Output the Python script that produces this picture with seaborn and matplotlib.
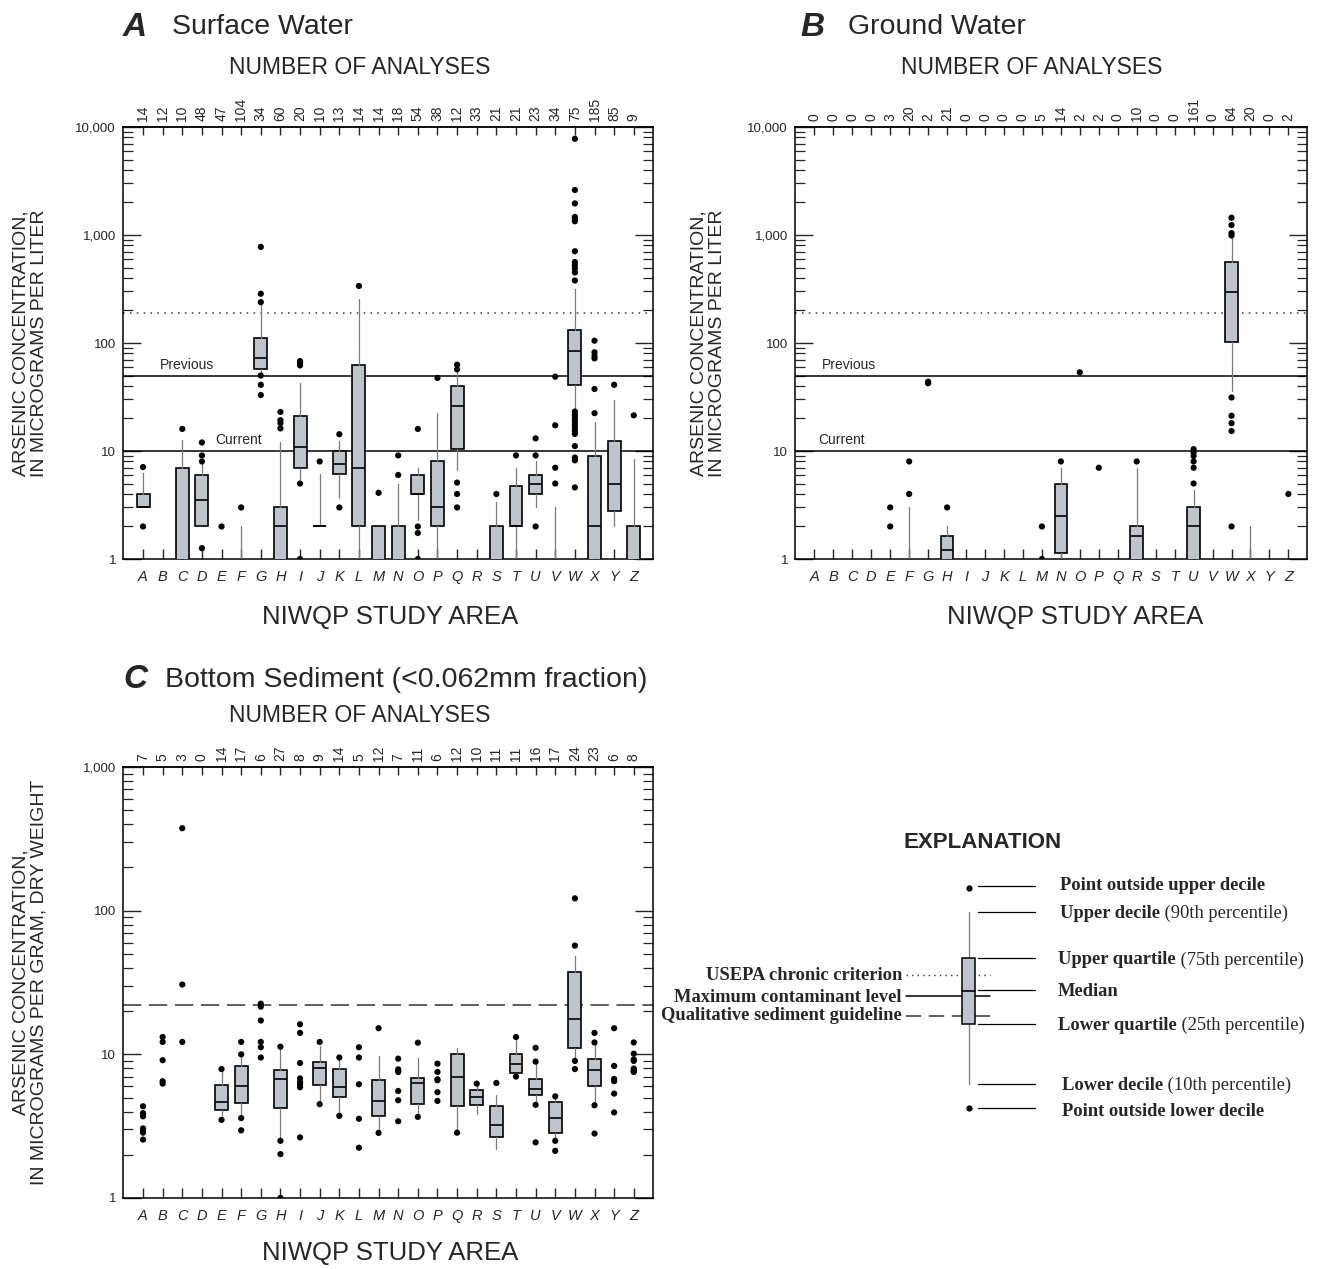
import numpy as np
import matplotlib
matplotlib.use("Agg")
import matplotlib.pyplot as plt
from matplotlib.patches import Rectangle
from matplotlib.ticker import LogLocator, NullFormatter, FixedLocator
import seaborn as sns

LETTERS = list("ABCDEFGHIJKLMNOPQRSTUVWXYZ")
NA = np.nan
LOW = 0.5  # below the 1-unit floor of the axis

# ---- A  Surface water (micrograms per liter) ----
sw_counts = [14, 12, 10, 48, 47, 104, 34, 60, 20, 10, 13, 14, 14, 18, 54, 38, 12, 33, 21, 21, 23, 34, 75, 185, 85, 9]
sw_p10 = [3.0, NA, LOW, 2.0, NA, LOW, 52, LOW, 5.5, 2.0, 3.7, LOW, LOW, LOW, 2.3, LOW, 6.6, NA, LOW, LOW, 3.0, LOW, 25, LOW, 2.0, LOW]
sw_q1 = [3.0, NA, LOW, 2.0, NA, LOW, 58, LOW, 7.0, 2.0, 6.1, 2.0, LOW, LOW, 4.0, 2.0, 10.5, NA, LOW, 2.0, 4.0, LOW, 41, LOW, 2.8, LOW]
sw_med = [3.0, NA, LOW, 3.5, NA, LOW, 72, 2.0, 11, 2.0, 7.5, 7.0, LOW, LOW, 4.0, 3.0, 26, NA, LOW, 2.0, 5.0, LOW, 85, 2.0, 5.0, LOW]
sw_q3 = [4.0, NA, 7.0, 6.0, NA, LOW, 111, 3.0, 21, 2.0, 10.0, 63, 2.0, 2.0, 6.0, 8.0, 40, NA, 2.0, 4.7, 6.0, LOW, 131, 9.0, 12.3, 2.0]
sw_p90 = [6.3, NA, 12.6, 7.5, NA, 2.0, 230, 12.0, 43, 6.1, 12.5, 257, 2.0, 5.0, 7.0, 22.7, 59, NA, 3.4, 7.0, 8.1, 3.0, 317, 18.5, 29.6, 8.4]
sw_out = [
    [7.1, 2.0], [], [16.0], [12.0, 9.1, 8.0, 1.26], [2.0], [3.0],
    [776, 286, 239, 50, 41, 33], [23, 19.3, 18.1, 16.2], [68, 65, 62, 5.0, 1.0], [8.0],
    [14.3, 3.0], [337], [4.1], [9.1, 6.0], [16.0, 2.0, 1.74, 1.0], [47.5],
    [63, 57, 5.1, 4.0, 3.0], [], [4.0], [9.1], [13.1, 9.1, 2.0], [48.8, 17.3, 7.0, 5.0],
    [7780, 2610, 1960, 1470, 1400, 1340, 707, 562, 524, 489, 450, 379,
     23.2, 21.6, 20.2, 18.9, 17.6, 16.5, 15.4, 14.4, 11.1, 8.7, 8.2, 4.6],
    [105, 82, 76, 72, 37.5, 22.4], [41], [21.4],
]

# ---- B  Ground water (micrograms per liter) ----
gw_counts = [0, 0, 0, 0, 3, 20, 2, 21, 0, 0, 0, 0, 5, 14, 2, 2, 0, 10, 0, 0, 161, 0, 64, 20, 0, 2]
gw_p10 = [NA, NA, NA, NA, NA, LOW, NA, LOW, NA, NA, NA, NA, NA, LOW, NA, NA, NA, LOW, NA, NA, LOW, NA, 36, LOW, NA, NA]
gw_q1 = [NA, NA, NA, NA, NA, LOW, NA, LOW, NA, NA, NA, NA, NA, 1.14, NA, NA, NA, LOW, NA, NA, LOW, NA, 102, LOW, NA, NA]
gw_med = [NA, NA, NA, NA, NA, LOW, NA, 1.22, NA, NA, NA, NA, NA, 2.5, NA, NA, NA, 1.62, NA, NA, 2.0, NA, 297, LOW, NA, NA]
gw_q3 = [NA, NA, NA, NA, NA, LOW, NA, 1.64, NA, NA, NA, NA, NA, 5.0, NA, NA, NA, 2.0, NA, NA, 3.0, NA, 564, LOW, NA, NA]
gw_p90 = [NA, NA, NA, NA, NA, 3.0, NA, 2.0, NA, NA, NA, NA, NA, 7.0, NA, NA, NA, 7.0, NA, NA, 4.4, NA, 960, 2.0, NA, NA]
gw_out = [
    [], [], [], [], [3.0, 2.0], [8.0, 4.0], [43.8, 42.4], [3.0], [], [], [], [],
    [2.0, 1.0], [8.0], [53.5], [7.0], [], [8.0], [], [],
    [10.4, 9.7, 9.0, 8.0, 7.0, 5.0], [], [1445, 1236, 1040, 990, 31.3, 21.2, 18.1, 15.3, 2.0],
    [], [], [4.0],
]

# ---- C  Bottom sediment (micrograms per gram) ----
sed_counts = [7, 5, 3, 0, 14, 17, 6, 27, 8, 9, 14, 5, 12, 7, 11, 6, 12, 10, 11, 11, 16, 17, 24, 23, 6, 8]
sed_p10 = [NA, NA, NA, NA, 3.8, 3.7, NA, 2.56, NA, 4.8, 3.9, NA, 2.9, NA, 3.8, NA, 2.92, 3.83, 2.21, 7.2, 4.5, 2.53, 9.1, 4.45, NA, NA]
sed_q1 = [NA, NA, NA, NA, 4.08, 4.62, NA, 4.24, NA, 6.09, 5.05, NA, 3.73, NA, 4.54, NA, 4.4, 4.42, 2.67, 7.42, 5.25, 2.84, 11.1, 6.0, NA, NA]
sed_med = [NA, NA, NA, NA, 4.67, 6.03, NA, 6.7, NA, 8.04, 5.93, NA, 4.74, NA, 6.32, NA, 6.96, 5.05, 3.21, 8.61, 5.77, 3.63, 17.7, 7.83, NA, NA]
sed_q3 = [NA, NA, NA, NA, 6.16, 8.34, NA, 7.83, NA, 8.8, 7.86, NA, 6.6, NA, 6.85, NA, 10.0, 5.62, 4.35, 10.0, 6.78, 4.64, 37.7, 9.28, NA, NA]
sed_p90 = [NA, NA, NA, NA, 7.8, 10.0, NA, 11.0, NA, 11.5, 9.3, NA, 9.8, NA, 9.5, NA, 11.1, 6.1, 5.19, 12.8, 8.85, 5.0, 48.7, 12.05, NA, NA]
sed_out = [
    [4.35, 3.9, 3.7, 3.05, 2.95, 2.85, 2.55], [13.2, 12.2, 9.1, 6.5, 6.26], [375, 30.6, 12.2], [],
    [7.9, 3.5], [12.2, 10.0, 3.6, 2.96], [22.5, 21.5, 17.2, 12.2, 11.2, 9.5], [11.3, 2.5, 2.02, 1.0],
    [16.2, 14.1, 8.7, 6.8, 6.4, 6.2, 5.9, 2.64], [12.2, 4.5], [9.5, 3.73], [11.2, 9.5, 6.19, 3.56, 2.24],
    [15.2, 2.84], [9.33, 7.86, 7.7, 7.54, 5.56, 4.79, 3.42], [12.05, 3.67], [8.61, 7.54, 6.7, 6.6, 5.45, 4.74],
    [2.85], [6.25], [6.32], [13.2, 7.0], [11.1, 8.9, 4.45, 2.44], [5.1, 2.5, 2.13],
    [121.8, 57.1, 9.0, 7.9], [14.1, 12.1, 4.42, 2.81], [15.2, 8.3, 6.74, 6.5, 5.33, 3.94],
    [12.1, 10.1, 9.2, 9.0, 7.96, 7.8, 7.6, 7.54],
]

BOX_FACE = "#bec4cc"
W, H = 1330, 1269

sns.set_style("ticks")
plt.rcParams["font.family"] = ["Liberation Sans", "DejaVu Sans"]

fig = plt.figure(figsize=(W / 100, H / 100), dpi=100)


def fx(x):
    return x / W


def fy(y):
    return 1 - y / H


def draw_panel(rect, counts, p10, q1, med, q3, p90, outliers, ymax, ylabels):
    left, top, right, bottom = rect
    ax = fig.add_axes([fx(left), fy(bottom), fx(right - left), (bottom - top) / H])
    ax.set_yscale("log")

    stats, pos = [], []
    for i in range(len(LETTERS)):
        if np.isnan(q3[i]):
            continue
        stats.append(dict(whislo=p10[i], q1=q1[i], med=med[i], q3=q3[i],
                          whishi=p90[i], fliers=[]))
        pos.append(i)
    ax.bxp(stats, positions=pos, widths=0.66, patch_artist=True, showcaps=False,
           showfliers=False,
           boxprops=dict(facecolor=BOX_FACE, edgecolor="black", linewidth=1.2),
           medianprops=dict(color="black", linewidth=1.2),
           whiskerprops=dict(color="#7a7a7a", linewidth=0.9), zorder=3)

    xs = [i for i, vals in enumerate(outliers) for _ in vals]
    ys = [v for vals in outliers for v in vals]
    sns.scatterplot(x=xs, y=ys, ax=ax, color="black", s=20, edgecolor="none", zorder=5)

    ax.set_xlim(-1.02, 25.98)
    ax.set_ylim(1, ymax)
    ax.set_xticks(range(26))
    ax.set_xticklabels(LETTERS, fontstyle="italic", fontsize=10.5)
    ax.tick_params(axis="x", direction="in", length=7, width=1, pad=8,
                   bottom=True, top=False)
    dec = [10 ** k for k in range(len(ylabels))]
    ax.yaxis.set_major_locator(FixedLocator(dec))
    ax.set_yticklabels(ylabels, fontsize=9.5)
    ax.yaxis.set_minor_locator(LogLocator(base=10, subs=np.arange(2, 10)))
    ax.yaxis.set_minor_formatter(NullFormatter())
    ax.tick_params(axis="y", which="major", direction="in", length=13, width=1,
                   left=True, right=True, pad=5)
    ax.tick_params(axis="y", which="minor", direction="in", length=7, width=0.9,
                   left=True, right=True)
    for s in ax.spines.values():
        s.set_linewidth(1.1)
        s.set_color("black")

    sec = ax.secondary_xaxis("top")
    sec.set_xticks(range(26), labels=[str(c) for c in counts])
    sec.tick_params(direction="in", length=6, width=1, labelrotation=90,
                    labelsize=10, pad=4)
    sec.spines["top"].set_linewidth(1.1)
    ax.set_xlabel("")
    ax.set_ylabel("")
    return ax


PANEL_A = (123, 127, 653, 559)
PANEL_B = (795, 127, 1307, 559)
PANEL_C = (123, 767, 653, 1198)
ylab_water = ["1", "10", "100", "1,000", "10,000"]
ylab_sed = ["1", "10", "100", "1,000"]

ax_a = draw_panel(PANEL_A, sw_counts, sw_p10, sw_q1, sw_med, sw_q3, sw_p90, sw_out, 10000, ylab_water)
ax_b = draw_panel(PANEL_B, gw_counts, gw_p10, gw_q1, gw_med, gw_q3, gw_p90, gw_out, 10000, ylab_water)
ax_c = draw_panel(PANEL_C, sed_counts, sed_p10, sed_q1, sed_med, sed_q3, sed_p90, sed_out, 1000, ylab_sed)

# reference levels
USEPA_CHRONIC = 190
MCL_PREVIOUS = 50
MCL_CURRENT = 10
SEDIMENT_GUIDE = 22
for ax, prev_x, cur_x in [(ax_a, 0.07, 0.174), (ax_b, 0.053, 0.045)]:
    ax.axhline(USEPA_CHRONIC, color="#333333", lw=1.1, ls=(0, (1, 3.5)), zorder=1)
    ax.axhline(MCL_PREVIOUS, color="black", lw=1.1, zorder=1)
    ax.axhline(MCL_CURRENT, color="black", lw=1.1, zorder=1)
    ax.text(prev_x, MCL_PREVIOUS * 1.08, "Previous", transform=ax.get_yaxis_transform(),
            fontsize=10, va="bottom", ha="left")
    ax.text(cur_x, MCL_CURRENT * 1.08, "Current", transform=ax.get_yaxis_transform(),
            fontsize=10, va="bottom", ha="left")
ax_c.axhline(SEDIMENT_GUIDE, color="#333333", lw=1.1, ls=(0, (12, 5)), zorder=1)

# titles and axis labels
for letter, title, x_l, x_t, y in [("A", "Surface Water", 123, 172, 27),
                                   ("B", "Ground Water", 800, 848, 27),
                                   ("C", "Bottom Sediment (<0.062mm fraction)", 123, 165, 680)]:
    fig.text(fx(x_l), fy(y), letter, fontsize=24, fontweight="bold", fontstyle="italic",
             ha="left", va="center")
    fig.text(fx(x_t), fy(y), title, fontsize=20.5, ha="left", va="center")

for xc, y in [(360, 68), (1032, 68), (360, 716)]:
    fig.text(fx(xc), fy(y), "NUMBER OF ANALYSES", fontsize=16.5, ha="center", va="center")
for xc, y in [(390, 617), (1075, 617), (390, 1253)]:
    fig.text(fx(xc), fy(y), "NIWQP STUDY AREA", fontsize=18.5, ha="center", va="center")

fig.text(fx(30), fy(343), "ARSENIC CONCENTRATION,\nIN MICROGRAMS PER LITER", rotation=90,
         fontsize=14, ha="center", va="center", linespacing=1.15)
fig.text(fx(708), fy(343), "ARSENIC CONCENTRATION,\nIN MICROGRAMS PER LITER", rotation=90,
         fontsize=14, ha="center", va="center", linespacing=1.15)
fig.text(fx(30), fy(982), "ARSENIC CONCENTRATION,\nIN MICROGRAMS PER GRAM, DRY WEIGHT", rotation=90,
         fontsize=14, ha="center", va="center", linespacing=1.15)

# ---- explanation ----
lax = fig.add_axes([0, 0, 1, 1])
lax.set_xlim(0, W)
lax.set_ylim(H, 0)
lax.axis("off")
serif = ["Liberation Serif", "DejaVu Serif"]

lax.text(983, 842, "EXPLANATION", fontsize=16, fontweight="bold", ha="center", va="center")

bx = 968.5
lax.plot([bx, bx], [912, 958], color="#7a7a7a", lw=0.9)
lax.plot([bx, bx], [1024, 1084], color="#7a7a7a", lw=0.9)
lax.plot([906, 990], [975, 975], color="#333333", lw=1.0, ls=(0, (1, 3)))
lax.plot([906, 990], [996, 996], color="black", lw=1.1)
lax.plot([906, 990], [1016, 1016], color="#333333", lw=1.1, ls=(0, (10, 5)))
lax.add_patch(Rectangle((962, 958), 13, 66, facecolor=BOX_FACE, edgecolor="black", lw=1.1, zorder=3))
lax.plot([962, 975], [991, 991], color="black", lw=1.2, zorder=4)
lax.scatter([bx, bx], [888, 1108], s=12, color="black", zorder=5)

for y in [886, 912, 958, 990, 1024, 1084, 1108]:
    lax.plot([978, 1035], [y, y], color="black", lw=0.9)

for txt, y in [("USEPA chronic criterion", 975), ("Maximum contaminant level", 997),
               ("Qualitative sediment guideline", 1016)]:
    lax.text(902, y, txt, family=serif, fontsize=13.3, fontweight="bold", ha="right", va="center")

for bold, rest, x, y in [("Point outside upper decile", "", 1060, 886),
                         ("Upper decile", " (90th percentile)", 1060, 913),
                         ("Upper quartile", " (75th percentile)", 1058, 960),
                         ("Median", "", 1058, 992),
                         ("Lower quartile", " (25th percentile)", 1058, 1025),
                         ("Lower decile", " (10th percentile)", 1062, 1085),
                         ("Point outside lower decile", "", 1062, 1112)]:
    t = lax.text(x, y, bold, family=serif, fontsize=13.3, fontweight="bold", ha="left", va="center")
    if rest:
        lax.annotate(rest, xy=(1, 0.5), xycoords=t, family=serif, fontsize=13.3,
                     ha="left", va="center")

fig.savefig("out.png", dpi=100)
